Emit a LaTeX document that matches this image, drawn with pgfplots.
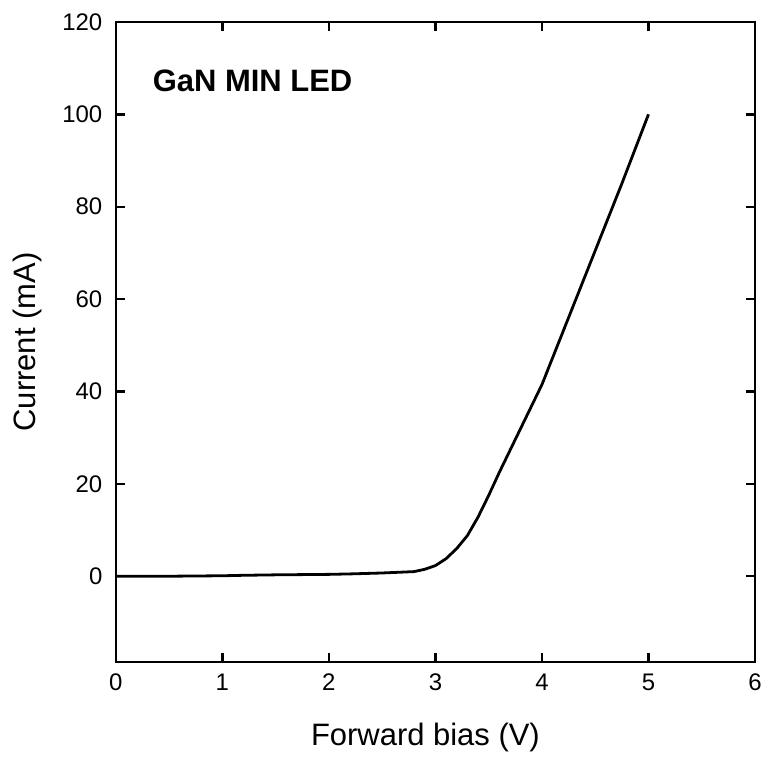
\documentclass[border=0pt]{standalone}
\usepackage{pgfplots}
\pgfplotsset{compat=1.18}
\usepackage{fontspec}
\setmainfont{Liberation Sans}
\begin{document}
\begin{tikzpicture}
\begin{axis}[
  scale only axis,
  width=640pt, height=641pt,
  xmin=0, xmax=6, ymin=-18.6, ymax=120,
  xtick={0,1,...,6}, ytick={0,20,...,120},
  tick align=inside,
  major tick length=9pt,
  axis line style={line width=2.6pt},
  every tick/.style={line width=2.4pt, black},
  tick label style={font=\fontsize{24}{28}\selectfont},
  /pgf/number format/assume math mode=true,
  label style={font=\fontsize{31}{36}\selectfont, inner sep=0pt},
  xlabel={Forward bias (V)},
  ylabel={Current (mA)},
  xticklabel style={yshift=-8pt},
  yticklabel style={xshift=-10pt},
  xlabel style={at={(axis description cs:0.5,0)}, anchor=base, yshift=-83pt, xshift=-10pt},
  ylabel style={at={(axis description cs:0,0.5)}, anchor=base, yshift=80pt},
  clip=false,
]
\addplot[black, line width=2.8pt, line join=round] coordinates {
(0,0) (0.5,0.0) (1.0,0.1) (1.2,0.2) (1.5,0.3) (2.0,0.4) (2.2,0.5) (2.5,0.7) (2.8,1.0)
(2.9,1.5) (3.0,2.3) (3.1,3.8) (3.2,6.0) (3.3,8.8) (3.4,12.8) (3.5,17.5)
(3.6,22.5) (3.8,32) (4.0,41.5) (4.25,56) (4.5,70.5) (4.75,85) (5.0,100)
};
\node[anchor=base west, inner sep=0pt, font=\fontsize{31}{36}\selectfont\bfseries] at (axis cs:0.345,104.9) {GaN MIN LED};
\end{axis}
\pgfresetboundingbox
\useasboundingbox ([xshift=-116pt,yshift=-94pt]current axis.south west) rectangle ([xshift=10pt,yshift=22pt]current axis.north east);
\end{tikzpicture}
\end{document}
